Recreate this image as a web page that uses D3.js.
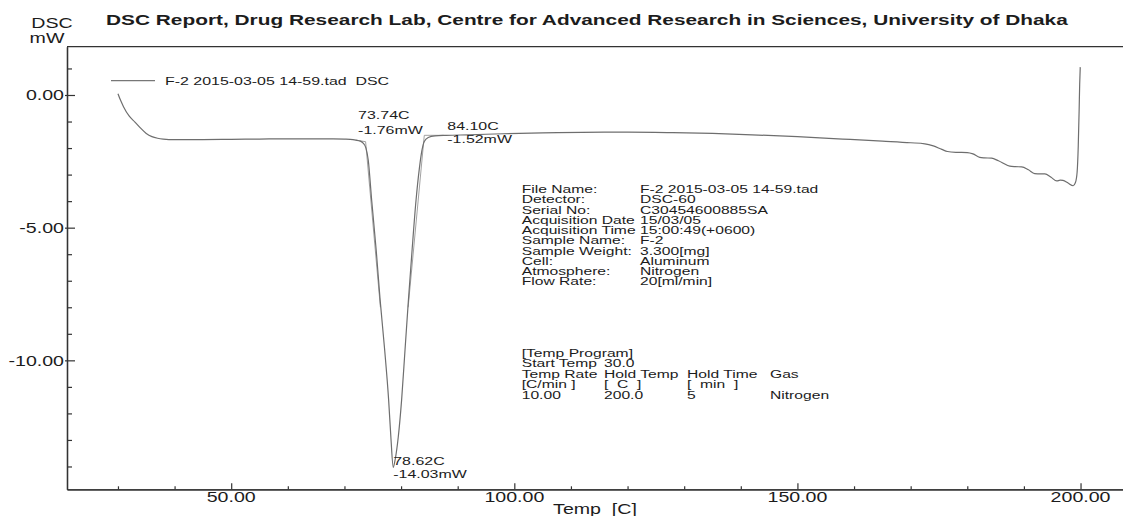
<!DOCTYPE html>
<html>
<head>
<meta charset="utf-8">
<script src="https://cdn.jsdelivr.net/npm/d3@7/dist/d3.min.js"></script>
<style>
  html, body { margin: 0; padding: 0; background: #fff; }
  #dsc-chart { width: 1123px; height: 516px; }
  text { font-family: "Liberation Sans", Arial, sans-serif; fill: #1c1c1c; white-space: pre; }
</style>
</head>
<body>
<div id="dsc-chart"></div>
<script>
// DSC curve: temperature [C] and heat flow [mW]
const temps = [30.0, 30.5, 31, 32, 33, 34, 35, 36, 37, 38, 40, 45, 50, 55, 60, 65, 68, 70, 71, 72,
  72.8, 73.3, 73.8, 74.2, 74.8, 75.6, 76.3, 77.1, 77.8, 78.2, 78.62, 78.95, 79.5, 80.1, 80.7, 81.3,
  81.95, 82.65, 83.2, 83.7, 84.1, 84.8, 86, 88, 92, 98, 105, 112, 120, 128, 135, 142, 150, 158, 165,
  170, 172.5, 174, 175.5, 176.5, 178, 180, 181, 182.2, 183, 184.3, 185.5, 187.5, 188.5, 189.6, 190.8,
  191.9, 193, 193.7, 194.8, 195.8, 196.4, 196.9, 197.8, 198.7, 199.1, 199.4, 199.6, 199.75, 199.85, 199.95];
const dscValues = [0.05, -0.22, -0.45, -0.80, -1.02, -1.25, -1.45, -1.57, -1.63, -1.66, -1.68, -1.68,
  -1.67, -1.66, -1.65, -1.65, -1.65, -1.66, -1.67, -1.70,
  -1.74, -1.81, -2.0, -2.45, -3.95, -5.83, -7.72, -9.6, -11.48, -12.9, -14.03, -13.75, -12.9, -11.48, -9.6, -7.72,
  -5.83, -3.95, -2.82, -2.07, -1.75, -1.60, -1.54, -1.52, -1.50, -1.46, -1.43, -1.41, -1.40, -1.42, -1.45, -1.50, -1.57, -1.66, -1.74,
  -1.80, -1.84, -1.92, -2.05, -2.13, -2.16, -2.17, -2.22, -2.35, -2.37, -2.38, -2.48, -2.68, -2.70, -2.71, -2.82,
  -2.96, -2.97, -2.97, -3.10, -3.24, -3.21, -3.22, -3.32, -3.42, -3.30, -2.90, -1.90, -0.6, 0.4, 1.05];

// peak analysis: onset, peak, endset
const eventTemps = [73.74, 78.62, 84.10];
const eventValues = [-1.76, -14.03, -1.52];
const eventLabels = [["73.74C", "-1.76mW"], ["78.62C", "-14.03mW"], ["84.10C", "-1.52mW"]];
// tangent / baseline construction lines [[t1, v1], [t2, v2]]
const tangentLines = [
  [[72.0, -1.70], [73.74, -1.76]],
  [[73.74, -1.76], [76.35, -8.0]],
  [[84.10, -1.52], [81.25, -8.0]],
  [[84.10, -1.52], [87.5, -1.52]]
];

const xMajorTicks = [50, 100, 150, 200];
const xMinorTicks = [30, 40, 60, 70, 80, 90, 110, 120, 130, 140, 160, 170, 180, 190];
const xTickLabels = ["50.00", "100.00", "150.00", "200.00"];
const yMajorTicks = [0, -5, -10];
const yMinorTicks = [1, -1, -2, -3, -4, -6, -7, -8, -9, -11, -12, -13, -14];
const yTickLabels = ["0.00", "-5.00", "-10.00"];

const infoLabels = ["File Name:", "Detector:", "Serial No:", "Acquisition Date", "Acquisition Time",
  "Sample Name:", "Sample Weight:", "Cell:", "Atmosphere:", "Flow Rate:"];
const infoValues = ["F-2 2015-03-05 14-59.tad", "DSC-60", "C30454600885SA", "15/03/05", "15:00:49(+0600)",
  "F-2", "3.300[mg]", "Aluminum", "Nitrogen", "20[ml/min]"];
const programRows = [
  ["[Temp Program]"],
  ["Start Temp", "30.0"],
  ["Temp Rate", "Hold Temp", "Hold Time", "Gas"],
  ["[C/min ]", "[  C  ]", "[  min  ]"],
  ["10.00", "200.0", "5", "Nitrogen"]
];

document.addEventListener('DOMContentLoaded', () => {
    const width = 1123;
    const height = 516;
    const SX = 1.45; // the report text is drawn horizontally stretched

    const svg = d3.select("#dsc-chart")
        .append("svg")
        .attr("width", width)
        .attr("height", height);

    const x = d3.scaleLinear().domain([21.0, 207.5]).range([67, 1123]);
    const y = d3.scaleLinear().domain([1.82, -14.86]).range([46.7, 489.3]);

    function label(g, px, py, str, size, anchor, weight, sx) {
        return g.append("text")
            .attr("transform", `translate(${px},${py}) scale(${sx || SX},1)`)
            .attr("text-anchor", anchor || "start")
            .style("font-size", size + "px")
            .style("font-weight", weight || "normal")
            .text(str);
    }

    // top frame line
    svg.append("line")
        .attr("x1", x.range()[0]).attr("x2", x.range()[1])
        .attr("y1", y.range()[0]).attr("y2", y.range()[0])
        .style("stroke", "#333").style("stroke-width", 1.3);

    // bottom axis, ticks pointing inward
    const xAxisG = svg.append("g").attr("transform", `translate(0,${y.range()[1]})`);
    xAxisG.call(d3.axisBottom(x).tickValues(xMajorTicks).tickSizeInner(-6).tickSizeOuter(0).tickFormat(""));
    xAxisG.call(g => g.append("g").call(d3.axisBottom(x).tickValues(xMinorTicks).tickSizeInner(-3).tickSizeOuter(0).tickFormat("")));

    const yAxisG = svg.append("g").attr("transform", `translate(${x.range()[0]},0)`);
    yAxisG.call(d3.axisLeft(y).tickValues(yMajorTicks).tickSizeInner(-8).tickSizeOuter(0).tickFormat(""));
    yAxisG.selectAll(".tick line").attr("x1", -2);
    yAxisG.call(g => g.append("g").call(d3.axisLeft(y).tickValues(yMinorTicks).tickSizeInner(-5).tickSizeOuter(0).tickFormat("")));

    svg.selectAll(".domain").style("stroke", "#333").style("stroke-width", 1.3);
    svg.selectAll(".tick line").style("stroke", "#333").style("stroke-width", 1.2);

    // tick labels
    xMajorTicks.forEach((t, i) => label(svg, x(t), 502, xTickLabels[i], 14, "middle", "normal", 1.4));
    yMajorTicks.forEach((v, i) => label(svg, 64, y(v) + 5.5, yTickLabels[i], 14, "end", "normal", 1.4));

    // axis titles and report title
    label(svg, 52, 28, "DSC", 14, "middle", "normal", 1.4);
    label(svg, 47, 43, "mW", 14, "middle", "normal", 1.4);
    label(svg, 595, 514, "Temp  [C]", 14, "middle", "normal", 1.4);
    label(svg, 106, 25, "DSC Report, Drug Research Lab, Centre for Advanced Research in Sciences, University of Dhaka", 14, "start", "bold", 1.49);

    // legend
    svg.append("line")
        .attr("x1", 111).attr("x2", 155).attr("y1", 80.7).attr("y2", 80.7)
        .style("stroke", "#777").style("stroke-width", 1.2);
    label(svg, 165, 85, "F-2 2015-03-05 14-59.tad  DSC", 11);

    // tangent construction lines
    svg.selectAll(".tangent")
        .data(tangentLines)
        .enter()
        .append("line")
        .attr("class", "tangent")
        .attr("x1", d => x(d[0][0])).attr("y1", d => y(d[0][1]))
        .attr("x2", d => x(d[1][0])).attr("y2", d => y(d[1][1]))
        .style("stroke", "#8a8a8a")
        .style("stroke-width", 0.8);

    // DSC curve
    const line = d3.line()
        .x(i => x(temps[i]))
        .y(i => y(dscValues[i]))
        .curve(d3.curveMonotoneX);

    svg.append("path")
        .datum(d3.range(temps.length))
        .attr("d", line)
        .style("fill", "none")
        .style("stroke", "#6e6e6e")
        .style("stroke-width", 1.2);

    // peak annotations
    const annOffsets = [[-7.5, -23, -8], [0, -2.6, 10.4], [23, -5.4, 7.8]];
    eventTemps.forEach((t, i) => {
        const px = x(t) + annOffsets[i][0];
        label(svg, px, y(eventValues[i]) + annOffsets[i][1], eventLabels[i][0], 11);
        label(svg, px, y(eventValues[i]) + annOffsets[i][2], eventLabels[i][1], 11);
    });

    // measurement info block
    const info = svg.append("g");
    infoLabels.forEach((s, i) => {
        label(info, 521.7, 193 + i * 10.25, s, 10.8);
        label(info, 640, 193 + i * 10.25, infoValues[i], 10.8);
    });

    // temperature program table
    const colX = [521.7, 604, 687, 770];
    programRows.forEach((row, r) => {
        row.forEach((s, c) => {
            label(info, colX[c], 356.5 + r * 10.5, s, 10.8);
        });
    });
});
</script>
</body>
</html>
